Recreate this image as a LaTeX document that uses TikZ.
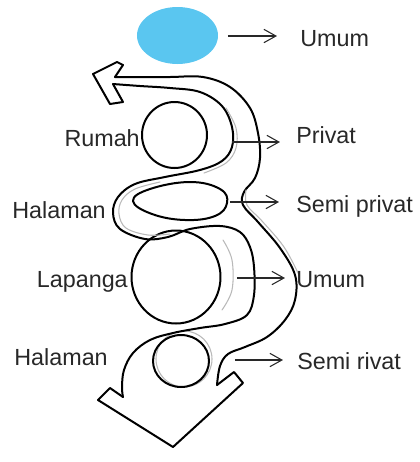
\documentclass[tikz,border=0pt]{standalone}
\usepackage{fontspec}
\setmainfont{Liberation Sans}
\usetikzlibrary{arrows.meta,shapes.geometric}
\definecolor{skyblue}{RGB}{90,198,240}
\definecolor{txt}{RGB}{40,40,40}
\begin{document}
\begin{tikzpicture}[x=0.75pt,y=-0.75pt,
  ink/.style={line width=1.5pt,line join=round,line cap=round,black},
  faint/.style={line width=0.8pt,gray!55,line cap=round},
  lbl/.style={inner sep=0pt,text=txt,font=\fontsize{17.5}{20}\selectfont},
  pointer/.style={line width=0.8pt,draw=txt,-{Straight Barb[length=9pt,width=10pt,line width=0.8pt]}}]
\useasboundingbox (0,0) rectangle (420,462);

% blue ellipse
\node[ellipse,fill=skyblue,minimum width=60.75pt,minimum height=42.75pt,inner sep=0pt] (pub) at (177.5,35.5) {};

% spaces
\draw[ink] (174.5,135) ellipse [x radius=32.5,y radius=33];
\coordinate (rumah) at (174.5,135);
\draw[ink] plot[smooth cycle,tension=0.7] coordinates {(133,201) (150,189) (190,182) (220,189) (227,203) (215,216) (185,220) (152,214)};
\draw[ink] (176,277) ellipse [x radius=44.5,y radius=46.5];
\draw[faint] (184,359) circle [radius=28];
\draw[ink] (181,361) ellipse [x radius=28,y radius=26];

% band: outer line
\draw[ink] plot[smooth,tension=0.6] coordinates {(115,77) (140,77) (170,77) (203,77) (230,87) (250,108) (258,133) (260,158) (255,178) (244,192) (243,205) (258,222) (280,248) (295,275) (295,300) (285,320) (267,337) (245,347) (228,354) (220,366) (217,385)};
% band: inner line
\draw[ink] plot[smooth,tension=0.6] coordinates {(113,84) (140,86) (170,88) (200,92) (222,106) (232,127) (232,147) (222,161) (200,170) (165,177) (135,184) (118,197) (113,213) (120,229) (145,239) (168,237) (190,229) (220,226) (240,232) (250,247) (254,267) (254,295) (247,315) (225,324) (200,328) (173,333) (150,340) (133,353) (124,370) (122,387) (123,397)};

% faint sketch lines
\draw[faint] plot[smooth,tension=0.6] coordinates {(226,108) (236,128) (236,148) (226,163) (204,173)};
\draw[faint] plot[smooth,tension=0.6] coordinates {(160,182) (135,189) (122,200) (119,214) (126,228) (148,235) (170,234)};
\draw[faint] plot[smooth,tension=0.6] coordinates {(246,190) (247,205) (262,221) (284,247) (299,275)};
\draw[faint] plot[smooth,tension=0.6] coordinates {(223,240) (232,260) (232,290) (222,310)};

% arrowheads of the band
\draw[ink] (113,84) -- (123,102) -- (110,104) -- (93,74) -- (117,62) -- (123,65) -- (115,77);
\draw[ink] (123,397) -- (110,388) -- (98,400) -- (173,447) -- (243,383) -- (234,372) -- (217,385);

% labels right
\node[lbl,anchor=base west] (l1) at (300,46) {Umum};
\node[lbl,anchor=base west] (l2) at (296,143) {Privat};
\node[lbl,anchor=base west] (l3) at (296,212) {Semi privat};
\node[lbl,anchor=base west] (l4) at (296,287) {Umum};
\node[lbl,anchor=base west] (l5) at (297,369) {Semi rivat};

% labels left
\node[lbl,anchor=base east] (r1) at (140,146) {Rumah};
\node[lbl,anchor=base east] (r2) at (106,218) {Halaman};
\node[lbl,anchor=base east] (r3) at (128,287) {Lapanga};
\node[lbl,anchor=base east] (r4) at (108,365) {Halaman};

% pointers
\coordinate (s1) at (228,36);  \coordinate (e1) at (277,36);
\coordinate (s2) at (232,142); \coordinate (e2) at (280,142);
\coordinate (s3) at (230,202); \coordinate (e3) at (279,202);
\coordinate (s4) at (237,278); \coordinate (e4) at (285,278);
\coordinate (s5) at (235,360); \coordinate (e5) at (283,360);
\draw[pointer] (s1) -- (e1);
\draw[pointer] (s2) -- (e2);
\draw[pointer] (s3) -- (e3);
\draw[pointer] (s4) -- (e4);
\draw[pointer] (s5) -- (e5);
\end{tikzpicture}
\end{document}
